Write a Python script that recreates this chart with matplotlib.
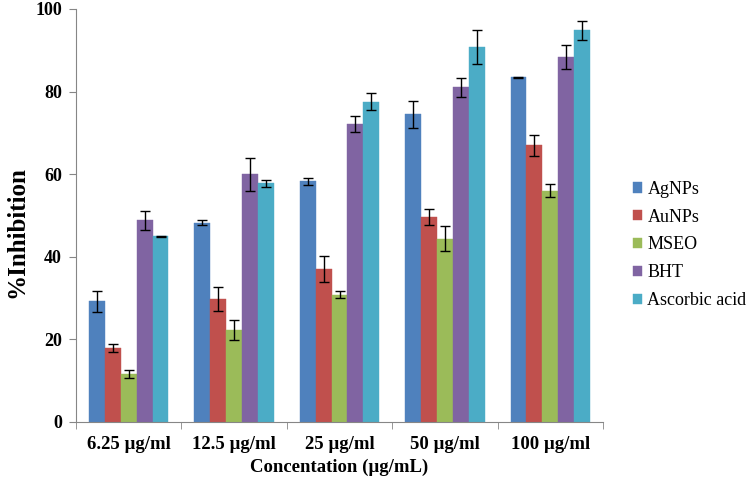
import matplotlib.pyplot as plt
import numpy as np

plt.rcParams['font.family'] = ['Liberation Serif', 'DejaVu Serif']

groups = ["6.25 µg/ml", "12.5 µg/ml", "25 µg/ml", "50 µg/ml", "100 µg/ml"]
series = ["AgNPs", "AuNPs", "MSEO", "BHT", "Ascorbic acid"]
colors = ["#4F81BD", "#C0504D", "#9BBB59", "#8064A2", "#4BACC6"]

agnps = [29.2, 48.2, 58.3, 74.5, 83.5]
agnps_err = [2.5, 0.6, 0.8, 3.2, 0.15]
aunps = [18.0, 29.8, 37.0, 49.6, 67.0]
aunps_err = [1.0, 3.0, 3.2, 1.9, 2.5]
mseo = [11.7, 22.3, 30.8, 44.4, 56.0]
mseo_err = [1.0, 2.5, 0.8, 3.0, 1.6]
bht = [48.8, 60.0, 72.2, 81.0, 88.4]
bht_err = [2.2, 4.0, 2.0, 2.2, 2.9]
ascorbic = [45.0, 57.8, 77.6, 90.8, 94.8]
ascorbic_err = [0.15, 0.8, 2.0, 4.2, 2.2]

values = [agnps, aunps, mseo, bht, ascorbic]
errors = [agnps_err, aunps_err, mseo_err, bht_err, ascorbic_err]

fig = plt.figure(figsize=(7.52, 4.8), dpi=100)
ax = fig.add_axes([76 / 752, 58 / 480, 527 / 752, 413 / 480])

x = np.arange(len(groups))
w = 0.151
for i, (name, vals, errs, c) in enumerate(zip(series, values, errors, colors)):
    ax.bar(x + (i - 2) * w, vals, w, color=c, label=name, edgecolor=c, linewidth=0.3,
           yerr=errs, error_kw=dict(ecolor="black", elinewidth=1, capsize=3.5, capthick=1))

ax.set_xlim(-0.5, len(groups) - 0.5)
ax.set_ylim(0, 100)
ax.set_yticks(range(0, 101, 20))
ax.set_xticks(x)
ax.set_xticklabels(groups, fontsize=13.5, fontweight="bold")
ax.set_xticks(np.arange(-0.5, len(groups), 1), minor=True)
ax.tick_params(axis="x", which="major", length=0, pad=10)
ax.tick_params(axis="x", which="minor", length=5, color="#868686")
ax.tick_params(axis="y", length=5, color="#868686", labelsize=13, pad=5)
for lab in ax.get_yticklabels():
    lab.set_fontweight("bold")

for s in ["top", "right"]:
    ax.spines[s].set_visible(False)
for s in ["left", "bottom"]:
    ax.spines[s].set_color("#868686")

ax.set_xlabel("Concentation (µg/mL)", fontsize=13.5, fontweight="bold", labelpad=4)
fig.text(17 / 752, 1 - 232 / 480, "%Inhibition", rotation=90, fontsize=18,
         fontweight="bold", ha="center", va="center")

ax.legend(loc="center left", bbox_to_anchor=(633 / 752, 1 - 245 / 480),
          bbox_transform=fig.transFigure, frameon=False, fontsize=13,
          borderpad=0, borderaxespad=0, handlelength=0.5, handleheight=0.5,
          handletextpad=0.3, labelspacing=0.6)

fig.savefig("out.png", dpi=100)
